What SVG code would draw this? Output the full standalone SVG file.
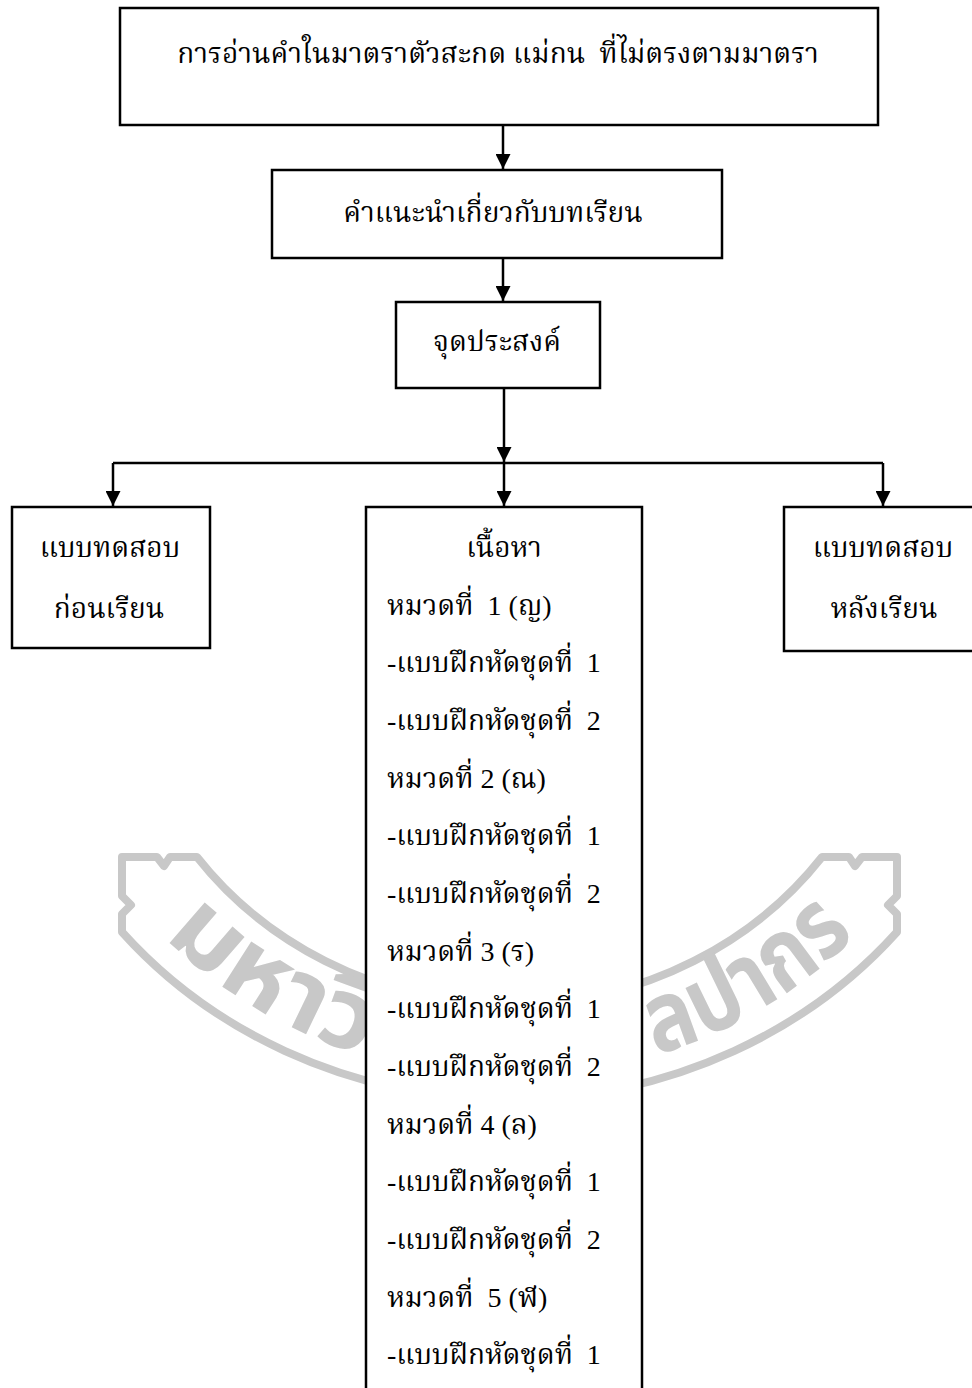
<svg xmlns="http://www.w3.org/2000/svg" width="972" height="1388" viewBox="0 0 972 1388">
<defs>
<style>
.box{fill:#fff;stroke:#000;stroke-width:2.5}
.t{font-family:"Liberation Serif","Noto Serif Thai","Noto Sans Thai",serif;font-size:28px;fill:#000;white-space:pre}
.c{text-anchor:middle}
.edge{stroke:#000;stroke-width:2.5;fill:none}
.wm{fill:none;stroke:#c8c8c8;stroke-width:8;stroke-linejoin:round;stroke-linecap:round}
.wmt{font-family:"Noto Sans Thai","Noto Sans","DejaVu Sans",sans-serif;font-weight:bold;font-size:98px;fill:#c8c8c8}
</style>
<marker id="ah" viewBox="0 0 10 10" refX="10" refY="5" markerWidth="6" markerHeight="6" orient="auto" markerUnits="strokeWidth">
<path d="M0,0 L10,5 L0,10 z" fill="#000"/>
</marker>
<path id="arcL" d="M 39.5,640 A 470 437 0 0 0 509.5,1077"/>
<path id="arcR" d="M 509.5,1077 A 470 437 0 0 0 979.5,640"/>
</defs>
<rect width="972" height="1388" fill="#fff"/>
<g id="watermark">
<path class="wm" d="M 197,857 L 170,857 L 164,866 L 157,857 L 122,857 L 122,896 L 131,905 L 122,914 L 122,932 A 502 460 0 0 0 897,932 L 897,914 L 888,905 L 897,896 L 897,857 L 862,857 L 855,866 L 849,857 L 822,857 A 389 365 0 0 1 197,857 Z"/>
<text class="wmt"><textPath href="#arcL" startOffset="330" textLength="235" lengthAdjust="spacingAndGlyphs">มหาวิ</textPath></text>
<text class="wmt"><textPath href="#arcR" startOffset="384" text-anchor="end" textLength="235" lengthAdjust="spacingAndGlyphs">ลปากร</textPath></text>
</g>
<g id="connectors">
<line class="edge" x1="503" y1="125" x2="503" y2="169" marker-end="url(#ah)"/>
<line class="edge" x1="503" y1="258" x2="503" y2="301" marker-end="url(#ah)"/>
<line class="edge" x1="504" y1="388" x2="504" y2="462" marker-end="url(#ah)"/>
<line class="edge" x1="113" y1="463" x2="883" y2="463"/>
<line class="edge" x1="113" y1="463" x2="113" y2="506" marker-end="url(#ah)"/>
<line class="edge" x1="504" y1="463" x2="504" y2="506" marker-end="url(#ah)"/>
<line class="edge" x1="883" y1="463" x2="883" y2="506" marker-end="url(#ah)"/>
</g>
<g id="n1">
<rect class="box" x="120" y="8" width="758" height="117"/>
<text class="t c" x="498" y="63">การอ่านคำในมาตราตัวสะกด แม่กน  ที่ไม่ตรงตามมาตรา</text>
</g>
<g id="n2">
<rect class="box" x="272" y="170" width="450" height="88"/>
<text class="t c" x="493" y="222">คำแนะนำเกี่ยวกับบทเรียน</text>
</g>
<g id="n3">
<rect class="box" x="396" y="302" width="204" height="86"/>
<text class="t c" x="497" y="351">จุดประสงค์</text>
</g>
<g id="n4">
<rect class="box" x="12" y="507" width="198" height="141"/>
<text class="t c" x="110" y="557">แบบทดสอบ</text>
<text class="t c" x="109" y="618">ก่อนเรียน</text>
</g>
<g id="n5">
<rect class="box" x="366" y="507" width="276" height="900"/>
<text class="t c" x="504" y="557">เนื้อหา</text>
<text class="t" x="387" y="615">หมวดที่  1 (ญ)</text>
<text class="t" x="387" y="672">-แบบฝึกหัดชุดที่  1</text>
<text class="t" x="387" y="730">-แบบฝึกหัดชุดที่  2</text>
<text class="t" x="387" y="788">หมวดที่ 2 (ณ)</text>
<text class="t" x="387" y="845">-แบบฝึกหัดชุดที่  1</text>
<text class="t" x="387" y="903">-แบบฝึกหัดชุดที่  2</text>
<text class="t" x="387" y="961">หมวดที่ 3 (ร)</text>
<text class="t" x="387" y="1018">-แบบฝึกหัดชุดที่  1</text>
<text class="t" x="387" y="1076">-แบบฝึกหัดชุดที่  2</text>
<text class="t" x="387" y="1134">หมวดที่ 4 (ล)</text>
<text class="t" x="387" y="1191">-แบบฝึกหัดชุดที่  1</text>
<text class="t" x="387" y="1249">-แบบฝึกหัดชุดที่  2</text>
<text class="t" x="387" y="1307">หมวดที่  5 (ฬ)</text>
<text class="t" x="387" y="1364">-แบบฝึกหัดชุดที่  1</text>
</g>
<g id="n6">
<rect class="box" x="784" y="507" width="200" height="144"/>
<text class="t c" x="883" y="557">แบบทดสอบ</text>
<text class="t c" x="884" y="618">หลังเรียน</text>
</g>
</svg>
